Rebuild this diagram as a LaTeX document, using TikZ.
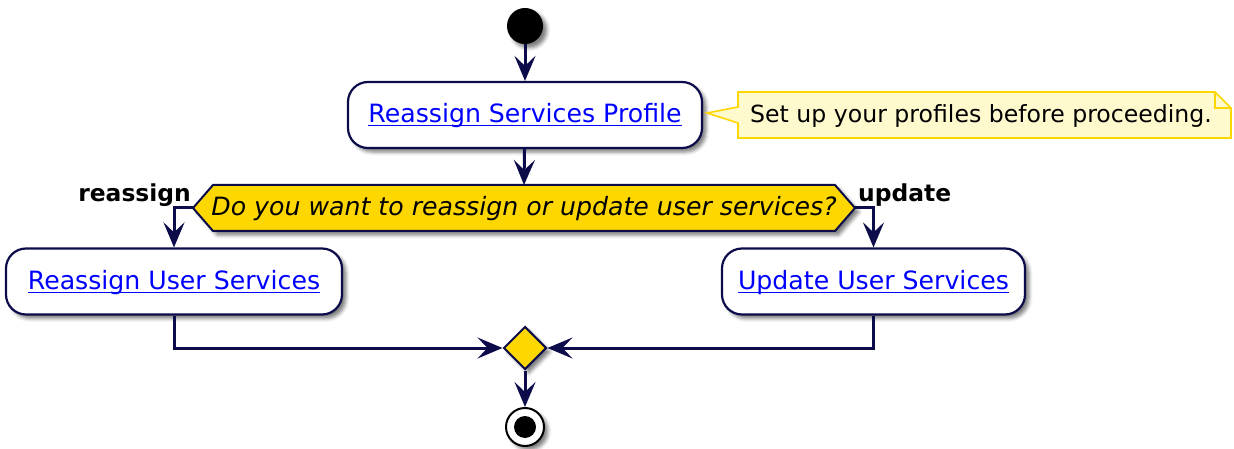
\documentclass[tikz,border=0pt]{standalone}
\usepackage{fontspec}
\setmainfont{DejaVu Sans}
\newcommand\lnk[1]{\setbox0\hbox{#1}\rlap{\rule[-3.5pt]{\wd0}{1.5pt}}\box0}
\usetikzlibrary{arrows.meta,shadows.blur,shapes.geometric}
\definecolor{navy}{HTML}{0C0C4A}
\definecolor{gold}{HTML}{FFD700}
\definecolor{notebg}{HTML}{FFFACD}
\definecolor{linkblue}{HTML}{0000FF}
\begin{document}
\begin{tikzpicture}[x=1pt,y=-1pt,
  shad/.style={blur shadow={shadow xshift=4pt, shadow yshift=-4pt, shadow blur radius=3.5pt, shadow opacity=50}},
  flow/.style={draw=navy, line width=3pt, -{Stealth[length=25pt,width=21pt,inset=10pt]}},
  actbox/.style={draw=navy, fill=white, line width=2.2pt, rounded corners=20pt, shad,
     text height=20pt, text depth=4pt, inner sep=0pt, minimum height=66pt,
     font=\fontsize{25.2}{30}\selectfont, text=linkblue},
  hexa/.style={draw=navy, fill=gold, line width=2pt, shad},
  qtext/.style={font=\fontsize{25.2}{30}\selectfont\itshape, inner sep=0pt, anchor=base},
  lbl/.style={font=\fontsize{23.4}{28}\selectfont\bfseries, inner sep=0pt},
  merge/.style={diamond, draw=navy, fill=gold, line width=2pt, minimum width=43pt, minimum height=43pt, inner sep=0pt, shad},
  startdot/.style={circle, fill=black, minimum size=36pt, inner sep=0pt, shad},
  enddot/.style={circle, draw=black, fill=white, line width=2pt, minimum size=38pt, inner sep=0pt, shad},
  notebox/.style={draw=gold, fill=notebg, line width=1.6pt},
  notetext/.style={font=\fontsize{23.6}{28}\selectfont, inner sep=0pt, anchor=base west}
]
\useasboundingbox (0,0) rectangle (1234,449);

% start
\node[startdot] (start) at (525,26) {};

% first activity
\node[actbox, minimum width=354pt] (p1) at (525,115) {\lnk{Reassign Services Profile}};

% note
\coordinate (tail) at (707,113);
\draw[notebox] (738,92) -- (1215,92) -- (1231,108) -- (1231,138) -- (738,138) -- (738,123) -- (tail) -- (738,107) -- cycle;
\draw[notebox, fill=none] (1215,92) -- (1215,108) -- (1231,108);
\node[notetext] (note) at (750,123) {Set up your profiles before proceeding.};

% decision hexagon
\draw[hexa] (193,208) -- (213,185) -- (835,185) -- (855,208) -- (835,231) -- (213,231) -- cycle;
\coordinate (dqL) at (193,208);
\coordinate (dqR) at (855,208);
\coordinate (dqT) at (524,185);
\node[qtext] (dq) at (524,216) {Do you want to reassign or update user services?};

\node[lbl, anchor=base east] (lre) at (191,202) {reassign};
\node[lbl, anchor=base west] (lup) at (858,202) {update};

% branch activities
\node[actbox, minimum width=336pt] (b2) at (174,281.5) {\lnk{Reassign User Services}};
\node[actbox, minimum width=303pt] (b3) at (873.5,281.5) {\lnk{Update User Services}};

% merge and end
\node[merge] (mg) at (525,348) {};
\node[enddot] (end) at (525,427) {};
\node[circle, fill=black, minimum size=22pt, inner sep=0pt] (enddotin) at (525,427) {};

% connectors
\draw[flow] (start) -- (p1);
\draw[flow] (p1) -- (dqT);
\draw[flow] (dqL) -| (b2);
\draw[flow] (dqR) -| (b3);
\draw[flow] (b2) |- (mg);
\draw[flow] (b3) |- (mg);
\draw[flow] (mg) -- (end);
\end{tikzpicture}
\end{document}
